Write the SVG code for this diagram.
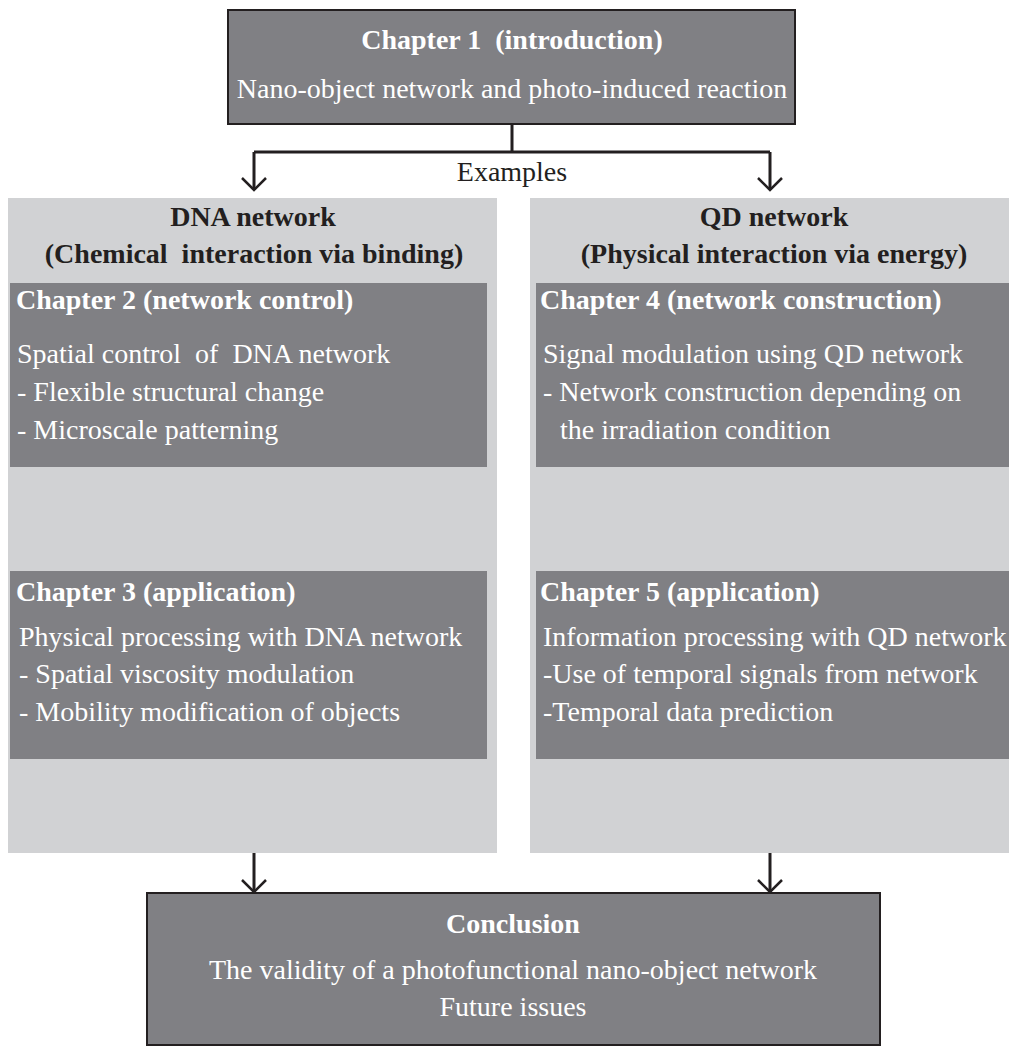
<svg xmlns="http://www.w3.org/2000/svg" width="1009" height="1046" viewBox="0 0 1009 1046">
<style>
.dark{fill:#808084}
.bord{stroke:#231f20;stroke-width:2}
.panel{fill:#d1d2d4}
text{font-family:"Liberation Serif","Times New Roman",serif}
.hw{fill:#fff;font-weight:bold;font-size:28px}
.tw{fill:#fff;font-size:28px}
.hb{fill:#231f20;font-weight:bold;font-size:28px}
.tb{fill:#231f20;font-size:28px}
.line{stroke:#231f20;stroke-width:3;fill:none}
</style>
<defs>
<marker id="arr" markerUnits="userSpaceOnUse" markerWidth="30" markerHeight="30" refX="15" refY="15" orient="auto" viewBox="0 0 30 30">
<path d="M3,3 L15,15 L3,27" fill="none" stroke="#231f20" stroke-width="2.5"/>
</marker>
</defs>
<g id="ch1">
<rect x="228" y="10" width="567" height="114" class="dark bord"/>
<text x="512" y="49" text-anchor="middle" class="hw" xml:space="preserve">Chapter 1  (introduction)</text>
<text x="512" y="98" text-anchor="middle" class="tw">Nano-object network and photo-induced reaction</text>
</g>
<g id="connectors">
<path d="M512,124 V152 M254,152 H770" class="line"/>
<path d="M254,152 V190" class="line" marker-end="url(#arr)"/>
<path d="M770,152 V190" class="line" marker-end="url(#arr)"/>
<path d="M254,853 V892" class="line" marker-end="url(#arr)"/>
<path d="M770,853 V892" class="line" marker-end="url(#arr)"/>
<text x="512" y="181" text-anchor="middle" class="tb">Examples</text>
</g>
<g id="dna">
<rect x="8" y="198" width="489" height="655" class="panel"/>
<text x="253" y="226" text-anchor="middle" class="hb">DNA network</text>
<text x="254" y="263" text-anchor="middle" class="hb" xml:space="preserve">(Chemical  interaction via binding)</text>
</g>
<g id="qd">
<rect x="530" y="198" width="479" height="655" class="panel"/>
<text x="774" y="226" text-anchor="middle" class="hb">QD network</text>
<text x="774" y="263" text-anchor="middle" class="hb">(Physical interaction via energy)</text>
</g>
<g id="ch2">
<rect x="10" y="283" width="477" height="184" class="dark"/>
<text x="16" y="309" class="hw">Chapter 2 (network control)</text>
<text x="17" y="363" class="tw" xml:space="preserve">Spatial control  of  DNA network</text>
<text x="17" y="401" class="tw">- Flexible structural change</text>
<text x="17" y="439" class="tw">- Microscale patterning</text>
</g>
<g id="ch3">
<rect x="10" y="571" width="477" height="188" class="dark"/>
<text x="16" y="601" class="hw">Chapter 3 (application)</text>
<text x="19" y="646" class="tw">Physical processing with DNA network</text>
<text x="19" y="683" class="tw">- Spatial viscosity modulation</text>
<text x="19" y="721" class="tw">- Mobility modification of objects</text>
</g>
<g id="ch4">
<rect x="536" y="283" width="473" height="184" class="dark"/>
<text x="540" y="309" class="hw">Chapter 4 (network construction)</text>
<text x="543" y="363" class="tw">Signal modulation using QD network</text>
<text x="543" y="401" class="tw">- Network construction depending on</text>
<text x="560" y="439" class="tw">the irradiation condition</text>
</g>
<g id="ch5">
<rect x="536" y="571" width="473" height="188" class="dark"/>
<text x="540" y="601" class="hw">Chapter 5 (application)</text>
<text x="543" y="646" class="tw">Information processing with QD network</text>
<text x="543" y="683" class="tw">-Use of temporal signals from network</text>
<text x="543" y="721" class="tw">-Temporal data prediction</text>
</g>
<g id="conclusion">
<rect x="147" y="893" width="733" height="152" class="dark bord"/>
<text x="513" y="933" text-anchor="middle" class="hw">Conclusion</text>
<text x="513" y="979" text-anchor="middle" class="tw">The validity of a photofunctional nano-object network</text>
<text x="513" y="1016" text-anchor="middle" class="tw">Future issues</text>
</g>
</svg>
